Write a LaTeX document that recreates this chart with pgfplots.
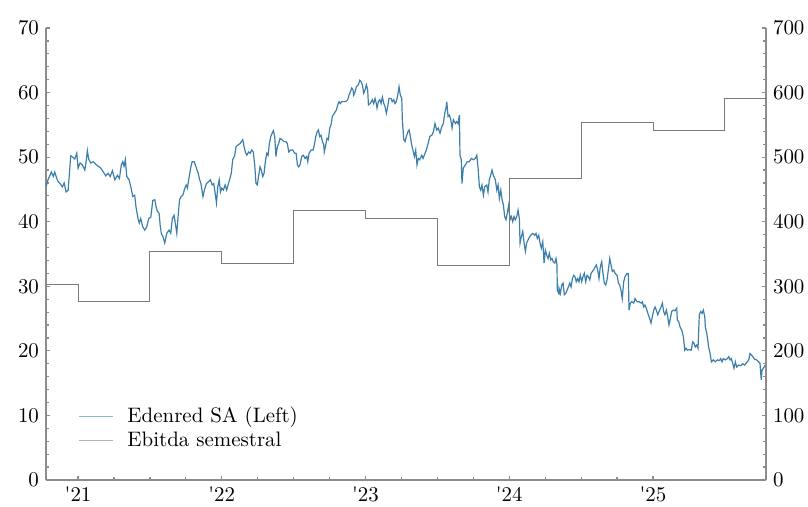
\documentclass[border=0pt]{standalone}
\usepackage{pgfplots}
\pgfplotsset{compat=1.18}
\definecolor{edblue}{HTML}{3C7FAB}
\definecolor{edbluelight}{HTML}{8FB8D3}
\definecolor{axgray}{HTML}{8C8C8C}
\definecolor{stepgray}{HTML}{7A7A7A}
\definecolor{steplight}{HTML}{B4B4B4}
\pgfplotstableread{
x y
2020.777 45.4
2020.791 46.5
2020.805 47.2
2020.814 47.7
2020.828 47.0
2020.838 47.7
2020.852 46.7
2020.861 46.2
2020.875 45.9
2020.891 45.4
2020.903 46.0
2020.917 44.6
2020.931 44.9
2020.940 47.5
2020.949 50.2
2020.963 50.0
2020.977 49.7
2020.991 50.6
2021.000 48.3
2021.014 49.1
2021.030 48.8
2021.047 48.0
2021.056 49.3
2021.065 51.0
2021.074 49.7
2021.088 49.1
2021.106 49.3
2021.123 48.9
2021.139 48.6
2021.158 48.3
2021.176 47.7
2021.193 47.1
2021.209 47.5
2021.223 47.0
2021.239 47.9
2021.256 46.5
2021.274 47.2
2021.288 46.7
2021.301 48.8
2021.311 49.3
2021.320 48.6
2021.329 49.6
2021.339 47.0
2021.355 46.5
2021.367 45.4
2021.381 43.9
2021.394 44.1
2021.403 42.3
2021.417 40.5
2021.426 39.8
2021.436 40.5
2021.450 39.2
2021.464 38.7
2021.478 39.2
2021.492 40.5
2021.506 40.7
2021.520 43.3
2021.534 43.4
2021.543 42.3
2021.552 41.6
2021.564 41.3
2021.571 39.5
2021.580 38.1
2021.589 37.8
2021.603 36.7
2021.617 38.2
2021.633 38.7
2021.645 38.2
2021.656 40.5
2021.668 41.0
2021.675 40.0
2021.687 38.2
2021.696 40.8
2021.706 43.4
2021.717 43.9
2021.729 44.1
2021.743 45.2
2021.752 45.7
2021.761 45.2
2021.771 46.7
2021.785 48.5
2021.794 49.3
2021.808 49.3
2021.823 48.3
2021.836 47.5
2021.846 46.5
2021.855 45.9
2021.869 43.9
2021.879 44.9
2021.893 45.9
2021.909 46.2
2021.921 46.5
2021.933 45.7
2021.944 45.9
2021.954 44.4
2021.963 42.9
2021.972 45.4
2021.982 46.5
2021.991 44.6
2022.000 45.2
2022.011 44.9
2022.023 45.7
2022.034 44.9
2022.046 45.9
2022.057 46.7
2022.066 47.5
2022.076 49.6
2022.090 50.3
2022.099 51.6
2022.113 51.9
2022.127 52.1
2022.136 52.4
2022.146 52.7
2022.155 51.6
2022.164 50.8
2022.174 50.3
2022.187 50.8
2022.197 50.6
2022.208 51.1
2022.219 50.8
2022.229 48.8
2022.238 45.9
2022.247 45.7
2022.257 47.2
2022.266 48.5
2022.275 48.0
2022.285 47.0
2022.294 47.5
2022.303 49.3
2022.313 50.6
2022.322 50.3
2022.331 52.1
2022.341 53.2
2022.350 53.7
2022.359 54.1
2022.368 53.2
2022.377 50.1
2022.386 51.6
2022.396 52.1
2022.405 52.9
2022.419 52.7
2022.433 52.4
2022.447 52.4
2022.456 52.1
2022.466 50.8
2022.480 51.1
2022.494 51.1
2022.507 50.6
2022.517 50.6
2022.526 48.8
2022.535 48.5
2022.544 48.8
2022.556 50.1
2022.567 50.3
2022.579 49.8
2022.591 50.1
2022.598 49.3
2022.607 50.6
2022.621 51.1
2022.635 51.1
2022.644 51.9
2022.654 53.2
2022.663 53.9
2022.672 54.2
2022.681 53.2
2022.690 53.4
2022.700 52.4
2022.709 51.9
2022.713 50.8
2022.723 51.9
2022.732 52.9
2022.741 52.7
2022.751 54.5
2022.760 55.0
2022.769 56.3
2022.783 56.8
2022.797 57.3
2022.807 58.1
2022.816 58.6
2022.825 58.3
2022.834 58.6
2022.848 58.6
2022.862 58.6
2022.876 58.9
2022.885 59.6
2022.894 60.1
2022.904 60.7
2022.913 60.4
2022.918 59.6
2022.927 60.1
2022.936 60.9
2022.950 61.2
2022.960 61.9
2022.969 61.7
2022.978 61.2
2022.987 59.9
2022.997 60.4
2023.006 61.2
2023.015 60.4
2023.020 58.1
2023.033 58.3
2023.047 58.9
2023.057 58.3
2023.066 59.1
2023.075 58.3
2023.080 57.6
2023.089 58.6
2023.099 58.9
2023.108 58.3
2023.117 59.3
2023.127 58.3
2023.136 57.8
2023.145 56.8
2023.154 57.8
2023.163 59.1
2023.177 59.1
2023.186 58.6
2023.196 58.9
2023.205 58.3
2023.214 58.6
2023.224 59.6
2023.233 60.9
2023.242 59.6
2023.252 59.1
2023.256 55.8
2023.266 52.7
2023.275 52.4
2023.284 53.2
2023.294 53.9
2023.303 54.2
2023.312 53.2
2023.321 51.9
2023.330 51.1
2023.340 50.1
2023.349 51.1
2023.358 48.8
2023.367 49.8
2023.377 49.6
2023.391 50.3
2023.400 49.8
2023.414 50.6
2023.423 51.1
2023.433 51.9
2023.447 53.2
2023.461 53.4
2023.472 53.9
2023.483 55.2
2023.495 54.2
2023.506 54.5
2023.518 53.7
2023.530 54.7
2023.541 55.2
2023.551 56.8
2023.560 57.6
2023.565 58.6
2023.574 56.3
2023.583 56.5
2023.593 55.8
2023.602 54.5
2023.611 55.8
2023.625 55.2
2023.634 55.5
2023.643 55.2
2023.653 56.5
2023.657 50.3
2023.666 49.6
2023.671 45.9
2023.680 48.3
2023.694 48.8
2023.708 49.3
2023.722 49.3
2023.736 49.8
2023.750 49.6
2023.764 49.8
2023.774 50.3
2023.783 48.3
2023.792 45.4
2023.801 44.9
2023.810 45.7
2023.820 44.1
2023.829 45.4
2023.843 45.7
2023.852 44.6
2023.861 46.5
2023.871 47.2
2023.880 48.0
2023.889 47.2
2023.903 46.5
2023.913 44.9
2023.922 45.7
2023.931 43.6
2023.941 44.9
2023.950 43.4
2023.959 42.6
2023.968 40.8
2023.977 40.3
2023.986 41.3
2023.996 42.6
2024.005 40.3
2024.014 40.8
2024.024 40.0
2024.033 40.8
2024.042 40.3
2024.052 40.8
2024.061 41.8
2024.070 40.5
2024.075 36.7
2024.084 37.7
2024.094 38.5
2024.103 36.7
2024.112 35.4
2024.121 36.7
2024.135 37.4
2024.149 37.9
2024.163 38.2
2024.177 37.9
2024.186 38.2
2024.195 37.4
2024.205 37.9
2024.214 36.7
2024.223 35.9
2024.233 36.9
2024.242 33.6
2024.251 35.6
2024.261 34.8
2024.270 34.3
2024.279 35.1
2024.288 34.1
2024.297 34.3
2024.306 33.8
2024.316 33.6
2024.325 34.3
2024.332 33.3
2024.334 29.4
2024.344 28.9
2024.346 29.7
2024.355 28.9
2024.365 30.2
2024.374 30.5
2024.383 28.7
2024.393 28.9
2024.402 29.4
2024.411 29.9
2024.421 30.5
2024.430 29.9
2024.439 31.2
2024.448 31.7
2024.457 31.5
2024.466 30.7
2024.476 31.2
2024.485 30.7
2024.494 31.7
2024.504 30.7
2024.513 31.5
2024.522 32.0
2024.532 30.7
2024.541 31.7
2024.550 31.5
2024.560 31.0
2024.569 32.0
2024.578 32.3
2024.587 32.5
2024.597 33.0
2024.606 33.3
2024.615 32.5
2024.624 31.2
2024.633 33.0
2024.643 33.8
2024.652 32.0
2024.661 30.5
2024.671 30.2
2024.680 31.0
2024.689 32.5
2024.699 34.3
2024.708 33.3
2024.717 32.3
2024.727 32.5
2024.736 32.0
2024.750 31.7
2024.759 30.5
2024.768 30.2
2024.777 29.4
2024.786 28.1
2024.796 30.7
2024.805 31.5
2024.819 32.0
2024.828 32.0
2024.833 26.3
2024.842 27.4
2024.852 27.6
2024.866 27.4
2024.875 28.1
2024.889 27.6
2024.903 27.6
2024.917 27.4
2024.926 27.6
2024.935 26.8
2024.944 27.1
2024.953 26.6
2024.967 25.6
2024.977 25.0
2024.986 24.3
2024.995 25.3
2025.005 26.3
2025.014 26.8
2025.023 26.3
2025.033 25.6
2025.042 26.1
2025.056 26.8
2025.065 27.4
2025.074 26.1
2025.083 25.6
2025.093 26.3
2025.102 25.3
2025.111 24.0
2025.120 25.0
2025.130 26.1
2025.141 26.3
2025.153 26.2
2025.165 26.6
2025.169 24.8
2025.179 24.5
2025.188 23.7
2025.200 23.2
2025.211 22.2
2025.221 20.1
2025.230 20.4
2025.239 20.1
2025.253 20.2
2025.266 20.1
2025.276 21.4
2025.285 21.2
2025.294 20.6
2025.304 20.9
2025.313 20.4
2025.322 25.6
2025.332 26.1
2025.341 25.8
2025.350 26.3
2025.360 25.3
2025.364 23.7
2025.374 22.7
2025.387 20.6
2025.397 19.6
2025.406 18.3
2025.420 18.6
2025.433 18.3
2025.447 18.6
2025.461 18.5
2025.471 18.8
2025.480 18.3
2025.489 18.8
2025.503 18.6
2025.517 18.8
2025.527 19.1
2025.536 18.6
2025.545 18.8
2025.554 18.1
2025.563 17.3
2025.573 18.3
2025.582 17.5
2025.596 17.8
2025.610 17.7
2025.624 18.0
2025.638 17.8
2025.652 18.2
2025.666 18.6
2025.675 19.6
2025.684 19.4
2025.694 19.1
2025.707 18.7
2025.721 18.6
2025.735 18.3
2025.744 18.1
2025.753 15.5
2025.758 17.0
2025.767 17.3
2025.781 17.8
2025.786 18.1
}\pricetable
\pgfplotstableread{
x y
2020.777 303
2021.000 276
2021.500 354
2022.000 336
2022.500 418
2023.000 405
2023.500 332
2024.000 467
2024.500 553
2025.000 541
2025.500 591
2025.786 591
}\ebitdatable
\begin{document}
\begin{tikzpicture}[font=\fontsize{10.5}{12}\selectfont]
\path[use as bounding box] (-23bp,-13.5bp) rectangle (381bp,240bp);
\begin{axis}[
  at={(0,0)}, anchor=south west,
  scale only axis, width=360bp, height=226bp,
  xmin=2020.777, xmax=2025.786, ymin=0, ymax=70,
  axis x line=bottom, axis y line=left,
  axis line style={-, axgray, line width=0.9bp},
  tick style={axgray, line width=0.6bp},
  tick align=inside,
  major tick length=2bp, minor tick length=1.5bp,
  xtick={2021,2022,2023,2024,2025},
  xticklabels={\textquotesingle21,\textquotesingle22,\textquotesingle23,\textquotesingle24,\textquotesingle25},
  minor x tick num=3,
  ytick={0,10,...,70}, minor y tick num=4,
  ticklabel style={font=\fontsize{10.5}{12}\selectfont, text=black},
  /pgf/number format/assume math mode=true,
  legend style={at={(0.036,0.05)}, anchor=south west, draw=none, fill=none,
    font=\fontsize{10.5}{12}\selectfont, row sep=-1bp},
  legend cell align=left,
]
\addlegendimage{edbluelight, line width=0.6bp}
\addlegendentry{\hspace{5bp}Edenred SA (Left)}
\addlegendimage{steplight, line width=0.6bp}
\addlegendentry{\hspace{5bp}Ebitda semestral}
\addplot[edblue, line width=0.6bp, forget plot] table[x=x,y=y]{\pricetable};
\end{axis}
\begin{axis}[
  at={(0,0)}, anchor=south west,
  scale only axis, width=360bp, height=226bp,
  xmin=2020.777, xmax=2025.786, ymin=0, ymax=700,
  axis x line=none, axis y line=right,
  axis line style={-, axgray, line width=0.9bp},
  tick style={axgray, line width=0.6bp},
  tick align=inside,
  major tick length=2bp, minor tick length=1.5bp,
  ytick={0,100,...,700}, minor y tick num=4,
  ticklabel style={font=\fontsize{10.5}{12}\selectfont, text=black},
  /pgf/number format/assume math mode=true,
]
\addplot[stepgray, line width=0.5bp, const plot] table[x=x,y=y]{\ebitdatable};
\end{axis}
\end{tikzpicture}
\end{document}
